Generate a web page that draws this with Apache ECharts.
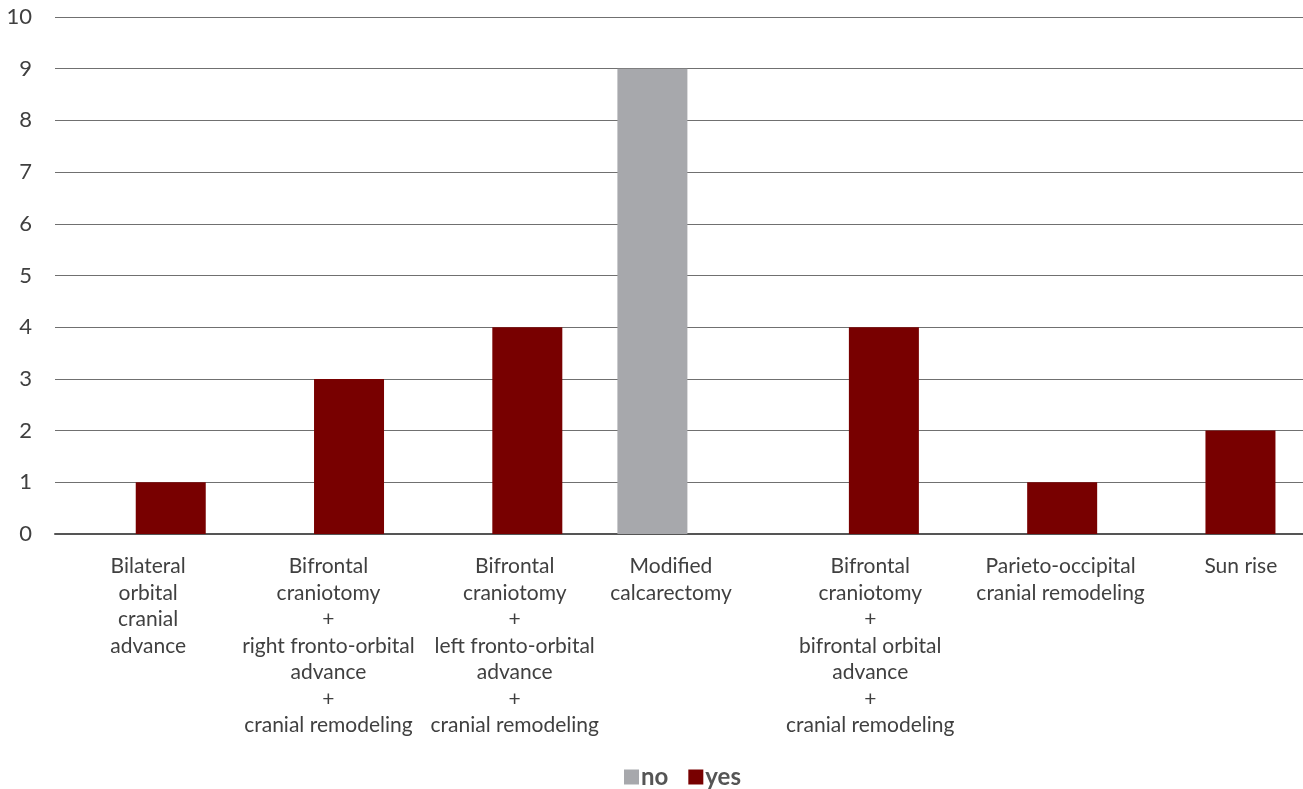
<!DOCTYPE html>
<html>
<head>
<meta charset="utf-8">
<script src="https://cdn.jsdelivr.net/npm/echarts@6/dist/echarts.min.js"></script>
<style>
  html, body { margin: 0; padding: 0; background: #fff; }
  #chart { width: 1303px; height: 789px; }
</style>
</head>
<body>
<div id="chart"></div>
<script>
// procedures (x axis)
const categories = [
  'Bilateral\norbital\ncranial\nadvance',
  'Bifrontal\ncraniotomy\n+\nright fronto-orbital\nadvance\n+\ncranial remodeling',
  'Bifrontal\ncraniotomy\n+\nleft fronto-orbital\nadvance\n+\ncranial remodeling',
  'Modified\ncalcarectomy',
  'Bifrontal\ncraniotomy\n+\nbifrontal orbital\nadvance\n+\ncranial remodeling',
  'Parieto-occipital\ncranial remodeling',
  'Sun rise'
]
const noValues = ['-', '-', '-', 9, '-', '-', '-']
const yesValues = [1, 3, 4, '-', 4, 1, 2]
const seriesNames = ['no', 'yes']

// labels in the original are not centred on their category, shift them a bit (px)
const labelShift = [4, 6, 14, -8, 13, 25, 27]

const labelStyle = {
  color: '#404040',
  fontFamily: 'Lato',
  fontSize: 21,
  lineHeight: 26.5
}
const rich = {}
labelShift.forEach((s, i) => {
  rich['c' + i] = Object.assign({}, labelStyle, {
    padding: s >= 0 ? [0, 0, 0, 2 * s] : [0, -2 * s, 0, 0]
  })
})

const chart = echarts.init(document.getElementById('chart'))

chart.setOption({
  animation: false,
  color: ['#a7a8ac', '#780000'],
  textStyle: { fontFamily: 'Lato' },
  grid: {
    top: 17,
    left: 55,
    width: 1254,
    bottom: 255
  },
  legend: {
    data: seriesNames,
    top: 757,
    left: 619,
    itemWidth: 15,
    itemHeight: 15,
    itemGap: 20,
    icon: 'rect',
    textStyle: {
      color: '#555',
      fontWeight: 'bold',
      fontSize: 24,
      lineHeight: 30,
      padding: [0, 0, 0, -3]
    }
  },
  xAxis: {
    type: 'category',
    data: categories,
    axisTick: { show: false },
    axisLine: { lineStyle: { color: '#555', width: 2 } },
    axisLabel: {
      interval: 0,
      margin: 19,
      color: '#404040',
      fontSize: 21,
      lineHeight: 26.5,
      formatter: (value, idx) => '{c' + idx + '|' + value + '}',
      rich: rich
    }
  },
  yAxis: {
    type: 'value',
    min: 0,
    max: 10,
    interval: 1,
    axisLine: { show: false },
    axisTick: { show: false },
    axisLabel: {
      margin: 23,
      color: '#404040',
      fontSize: 22
    },
    splitLine: { lineStyle: { color: '#707070', width: 1 } }
  },
  series: [
    {
      name: 'no',
      type: 'bar',
      barWidth: 70,
      barGap: '-24%',
      data: noValues
    },
    {
      name: 'yes',
      type: 'bar',
      barWidth: 70,
      data: yesValues
    }
  ]
})
</script>
</body>
</html>
